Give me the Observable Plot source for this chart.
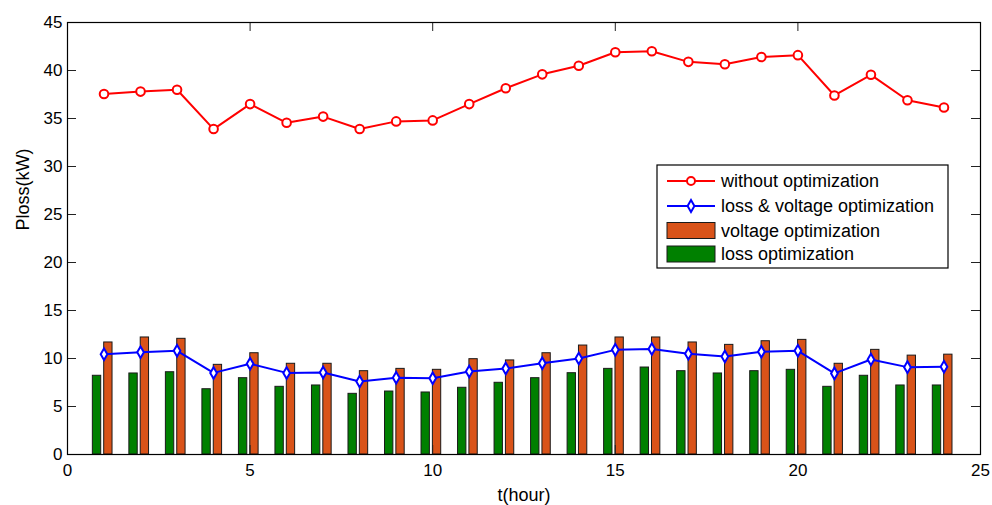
<!DOCTYPE html>
<html><head><meta charset="utf-8">
<script src="https://cdn.jsdelivr.net/npm/d3@7"></script>
<script src="https://cdn.jsdelivr.net/npm/@observablehq/plot@0.6"></script>
<style>body{margin:0;background:#fff}#chart{width:992px;height:505px}</style>
</head><body><div id="chart"></div>
<script>
const hours = [1,2,3,4,5,6,7,8,9,10,11,12,13,14,15,16,17,18,19,20,21,22,23,24];
const withoutOpt = [37.55,37.8,38.0,33.9,36.5,34.55,35.2,33.9,34.7,34.8,36.5,38.15,39.6,40.5,41.9,42.0,40.9,40.65,41.4,41.6,37.4,39.55,36.9,36.15];
const lossVoltageOpt = [10.45,10.65,10.8,8.5,9.45,8.5,8.55,7.6,8.0,7.95,8.65,8.95,9.5,10.0,10.9,11.0,10.5,10.2,10.7,10.8,8.45,9.9,9.1,9.15];
const voltageOpt = [11.67,12.19,12.05,9.34,10.55,9.45,9.45,8.68,8.92,8.82,9.93,9.8,10.55,11.35,12.19,12.19,11.67,11.42,11.8,11.94,9.45,10.9,10.3,10.4];
const lossOpt = [8.2,8.44,8.57,6.8,7.95,7.05,7.19,6.32,6.56,6.46,6.95,7.47,7.95,8.47,8.92,9.06,8.68,8.44,8.68,8.82,7.05,8.2,7.19,7.19];
const xTicks = [0,5,10,15,20,25];
const yTicks = [0,5,10,15,20,25,30,35,40,45];
const legendLabels = ["without optimization","loss & voltage optimization","voltage optimization","loss optimization"];
const xLabel = "t(hour)";
const yLabel = "Ploss(kW)";

const rows = hours.map((t, i) => ({t, without: withoutOpt[i], lv: lossVoltageOpt[i], volt: voltageOpt[i], loss: lossOpt[i]}));

const W = 992, H = 505, mt = 22, mr = 12, mb = 51, ml = 67;
const ph = H - mt - mb, pw = W - ml - mr;
const font = "'Liberation Sans', Arial, sans-serif";
const RED = "#FF0000", BLUE = "#0000FF", ORANGE = "#D95319", GREEN = "#008000";

const plot = Plot.plot({
  width: W, height: H,
  marginTop: mt, marginRight: mr, marginBottom: mb, marginLeft: ml,
  style: {fontFamily: font, fontSize: "17px", background: "white", color: "black"},
  x: {domain: [0, 25]},
  y: {domain: [0, 45]},
  marks: [
    Plot.rect(rows, {x1: d => d.t - 0.306, x2: d => d.t - 0.077, y1: 0, y2: "loss", fill: GREEN, stroke: "#1a1a1a", strokeWidth: 1}),
    Plot.rect(rows, {x1: d => d.t + 0.005, x2: d => d.t + 0.233, y1: 0, y2: "volt", fill: ORANGE, stroke: "#1a1a1a", strokeWidth: 1}),
    Plot.line(rows, {x: "t", y: "lv", stroke: BLUE, strokeWidth: 2}),
    Plot.dot(rows, {x: "t", y: "lv", symbol: "diamond", r: 3.5, stroke: BLUE, strokeWidth: 2, fill: "white"}),
    Plot.line(rows, {x: "t", y: "without", stroke: RED, strokeWidth: 2}),
    Plot.dot(rows, {x: "t", y: "without", r: 4.3, stroke: RED, strokeWidth: 2, fill: "white"}),
    Plot.tickX(xTicks, {x: d => d, insetTop: ph - 9, stroke: "#222"}),
    Plot.tickX(xTicks, {x: d => d, insetBottom: ph - 9, stroke: "#222"}),
    Plot.tickY(yTicks, {y: d => d, insetRight: pw - 9, stroke: "#222"}),
    Plot.tickY(yTicks, {y: d => d, insetLeft: pw - 9, stroke: "#222"}),
    Plot.axisX(xTicks, {tickSize: 0, tickPadding: 9, label: null, fontSize: 17}),
    Plot.axisY(yTicks, {tickSize: 0, tickPadding: 5, label: null, fontSize: 17}),
    Plot.frame({stroke: "black", strokeWidth: 1.2}),
    Plot.text([xLabel], {frameAnchor: "bottom", dy: 41, lineAnchor: "middle", fontSize: 18}),
    Plot.text([yLabel], {frameAnchor: "left", dx: -44, dy: -8, rotate: -90, fontSize: 18})
  ]
});

const svg = d3.select(plot);
const lg = svg.append("g").attr("transform", "translate(657,165)")
  .style("font-family", font).style("font-size", "18px").attr("text-anchor", "start");
lg.append("rect").attr("width", 291).attr("height", 103).attr("fill", "white").attr("stroke", "black").attr("stroke-width", 1.2);
const rowY = [16, 41, 65.5, 89];
[[RED, "circle"], [BLUE, "diamond"]].forEach(([c, s], i) => {
  lg.append("line").attr("x1", 10).attr("x2", 58).attr("y1", rowY[i]).attr("y2", rowY[i]).attr("stroke", c).attr("stroke-width", 2);
  const sym = s === "circle" ? d3.symbolCircle : d3.symbolDiamond;
  lg.append("path").attr("d", d3.symbol(sym, s === "circle" ? 50 : 40)()).attr("transform", `translate(34,${rowY[i]})`)
    .attr("fill", "white").attr("stroke", c).attr("stroke-width", 2);
});
[[ORANGE, 2], [GREEN, 3]].forEach(([c, i]) => {
  lg.append("rect").attr("x", 10).attr("width", 48).attr("y", rowY[i] - 8).attr("height", 16).attr("fill", c).attr("stroke", "#1a1a1a");
});
legendLabels.forEach((t, i) => {
  lg.append("text").attr("x", 64).attr("y", rowY[i]).attr("dy", "0.35em").attr("fill", "black").attr("text-anchor", "start").text(t);
});

document.getElementById("chart").appendChild(plot);
</script></body></html>
